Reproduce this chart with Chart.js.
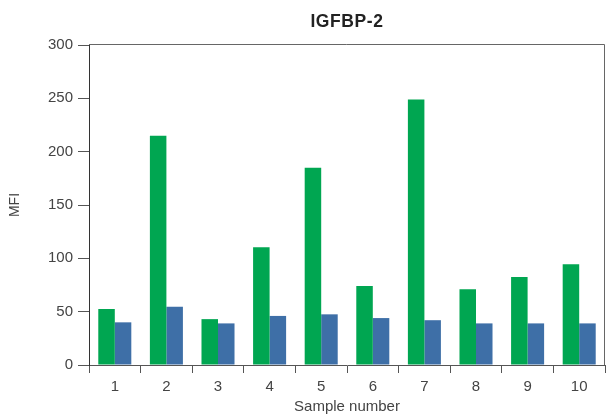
<!DOCTYPE html>
<html>
<head>
<meta charset="utf-8">
<script src="https://cdn.jsdelivr.net/npm/chart.js@4"></script>
<style>
  html, body { margin: 0; padding: 0; background: #fff; }
  #wrap { width: 606px; height: 416px; }
</style>
</head>
<body>
<div id="wrap"><canvas id="chart"></canvas></div>
<script>
// samples and MFI readings
const samples = ['1', '2', '3', '4', '5', '6', '7', '8', '9', '10'];
const greenValues = [52.5, 215, 43, 110.5, 185, 74, 249, 71, 82.5, 94.5];
const blueValues = [40, 54.5, 39, 46, 47.5, 44, 42, 39, 39, 39];
const yTicks = [0, 50, 100, 150, 200, 250, 300];

const FONT = "'Liberation Sans', Arial, sans-serif";

// box round the plot and title centered over it
const framePlugin = {
    id: 'frame',
    afterDraw(chart) {
        const { ctx, chartArea: a } = chart;
        ctx.save();
        ctx.strokeStyle = '#666';
        ctx.lineWidth = 1;
        ctx.beginPath();
        ctx.moveTo(a.left, a.top - 0.5);
        ctx.lineTo(a.right - 0.5, a.top - 0.5);
        ctx.lineTo(a.right - 0.5, a.bottom);
        ctx.stroke();
        ctx.fillStyle = '#222';
        ctx.font = 'bold 17.5px ' + FONT;
        ctx.letterSpacing = '0.6px';
        ctx.textAlign = 'center';
        ctx.textBaseline = 'middle';
        ctx.fillText('IGFBP-2', (a.left + a.right) / 2, 22.5);
        ctx.restore();
    }
};

new Chart(document.getElementById('chart'), {
    type: 'bar',
    data: {
        labels: samples,
        datasets: [
            { label: 'A', data: greenValues, backgroundColor: '#00a651', categoryPercentage: 0.64, barPercentage: 1 },
            { label: 'B', data: blueValues, backgroundColor: '#3e6fa7', categoryPercentage: 0.64, barPercentage: 1 }
        ]
    },
    options: {
        responsive: true,
        maintainAspectRatio: false,
        animation: false,
        layout: { padding: { top: 45, right: 1, left: 0, bottom: 0 } },
        plugins: {
            legend: { display: false },
            tooltip: { enabled: false }
        },
        scales: {
            x: {
                offset: true,
                grid: { offset: true, drawOnChartArea: false, drawTicks: true, tickLength: 8, color: '#555' },
                border: { color: '#555', width: 1 },
                ticks: { color: '#444', padding: 5, font: { family: FONT, size: 15 } },
                title: { display: true, text: 'Sample number', color: '#444', padding: { top: 4, bottom: 0 }, font: { family: FONT, size: 15 } },
                afterFit(scale) { scale.height = 51; }
            },
            y: {
                min: 0,
                max: 300,
                afterBuildTicks(scale) { scale.ticks = yTicks.map(v => ({ value: v })); },
                grid: { drawOnChartArea: false, drawTicks: true, tickLength: 11, color: '#555' },
                border: { color: '#333', width: 1 },
                ticks: { color: '#444', padding: 5, font: { family: FONT, size: 15 } },
                title: { display: true, text: 'MFI', color: '#444', padding: { top: 7, bottom: 0 }, font: { family: FONT, size: 14 } },
                afterFit(scale) { scale.width = 89; }
            }
        }
    },
    plugins: [framePlugin]
});
</script>
</body>
</html>
